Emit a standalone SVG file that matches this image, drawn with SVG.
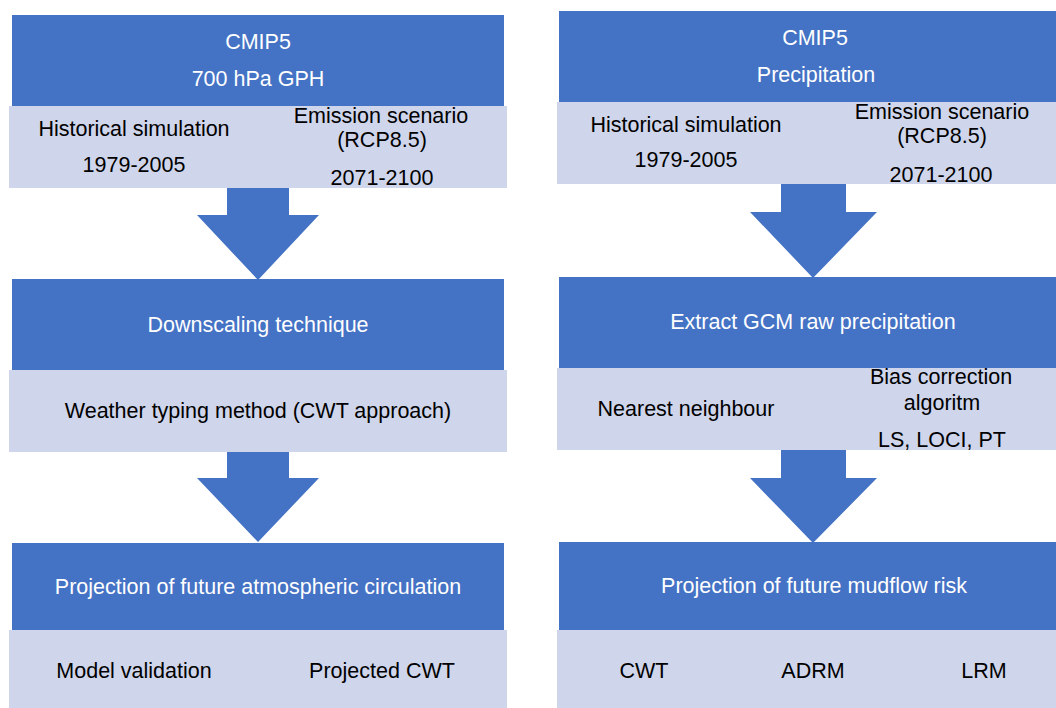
<svg xmlns="http://www.w3.org/2000/svg" width="1056" height="708" viewBox="0 0 1056 708">
<style>
.hd{fill:#4472C4}
.sb{fill:#CFD5EA}
.ar{fill:#4472C4}
text{font-family:"Liberation Sans",Arial,sans-serif;font-size:21.5px;text-anchor:middle}
.w{fill:#FFFFFF}
.k{fill:#000000}
</style>
<rect width="1056" height="708" fill="#FFFFFF"/>
<g id="connectors">
<polygon class="ar" points="227,186 289,186 289,215 319,215 258,280 197,215 227,215"/>
<polygon class="ar" points="227,450 289,450 289,478 319,478 258,542 197,478 227,478"/>
<polygon class="ar" points="781,182 846,182 846,212 877,212 813,278 750,212 781,212"/>
<polygon class="ar" points="781,448 846,448 846,478 877,478 813,543 750,478 781,478"/>
</g>
<g id="left-cmip5">
<rect class="hd" x="12" y="15" width="492" height="91"/>
<rect class="sb" x="9" y="106" width="498" height="82"/>
<text class="w" x="258" y="49">CMIP5</text>
<text class="w" x="258" y="86">700 hPa GPH</text>
<text class="k" x="134" y="136">Historical simulation</text>
<text class="k" x="134" y="172">1979-2005</text>
<text class="k" x="381" y="123">Emission scenario</text>
<text class="k" x="382" y="147">(RCP8.5)</text>
<text class="k" x="382" y="185">2071-2100</text>
</g>
<g id="left-downscaling">
<rect class="hd" x="12" y="279" width="492" height="91"/>
<rect class="sb" x="9" y="370" width="498" height="82"/>
<text class="w" x="258" y="332">Downscaling technique</text>
<text class="k" x="258" y="418">Weather typing method (CWT approach)</text>
</g>
<g id="left-projection">
<rect class="hd" x="12" y="543" width="492" height="87"/>
<rect class="sb" x="9" y="630" width="498" height="78"/>
<text class="w" x="258" y="594">Projection of future atmospheric circulation</text>
<text class="k" x="134" y="678">Model validation</text>
<text class="k" x="382" y="678">Projected CWT</text>
</g>
<g id="right-cmip5">
<rect class="hd" x="559" y="11" width="497" height="91"/>
<rect class="sb" x="557" y="102" width="499" height="82"/>
<text class="w" x="815" y="45">CMIP5</text>
<text class="w" x="816" y="82">Precipitation</text>
<text class="k" x="686" y="132">Historical simulation</text>
<text class="k" x="686" y="167">1979-2005</text>
<text class="k" x="942" y="119">Emission scenario</text>
<text class="k" x="942" y="143">(RCP8.5)</text>
<text class="k" x="941" y="182">2071-2100</text>
</g>
<g id="right-extract">
<rect class="hd" x="559" y="277" width="497" height="91"/>
<rect class="sb" x="557" y="368" width="499" height="82"/>
<text class="w" x="813" y="329">Extract GCM raw precipitation</text>
<text class="k" x="686" y="416">Nearest neighbour</text>
<text class="k" x="941" y="384">Bias correction</text>
<text class="k" x="942" y="410">algoritm</text>
<text class="k" x="942" y="447">LS, LOCI, PT</text>
</g>
<g id="right-projection">
<rect class="hd" x="559" y="542" width="497" height="88"/>
<rect class="sb" x="557" y="630" width="499" height="78"/>
<text class="w" x="814" y="593">Projection of future mudflow risk</text>
<text class="k" x="644" y="678">CWT</text>
<text class="k" x="813" y="678">ADRM</text>
<text class="k" x="984" y="678">LRM</text>
</g>
</svg>
